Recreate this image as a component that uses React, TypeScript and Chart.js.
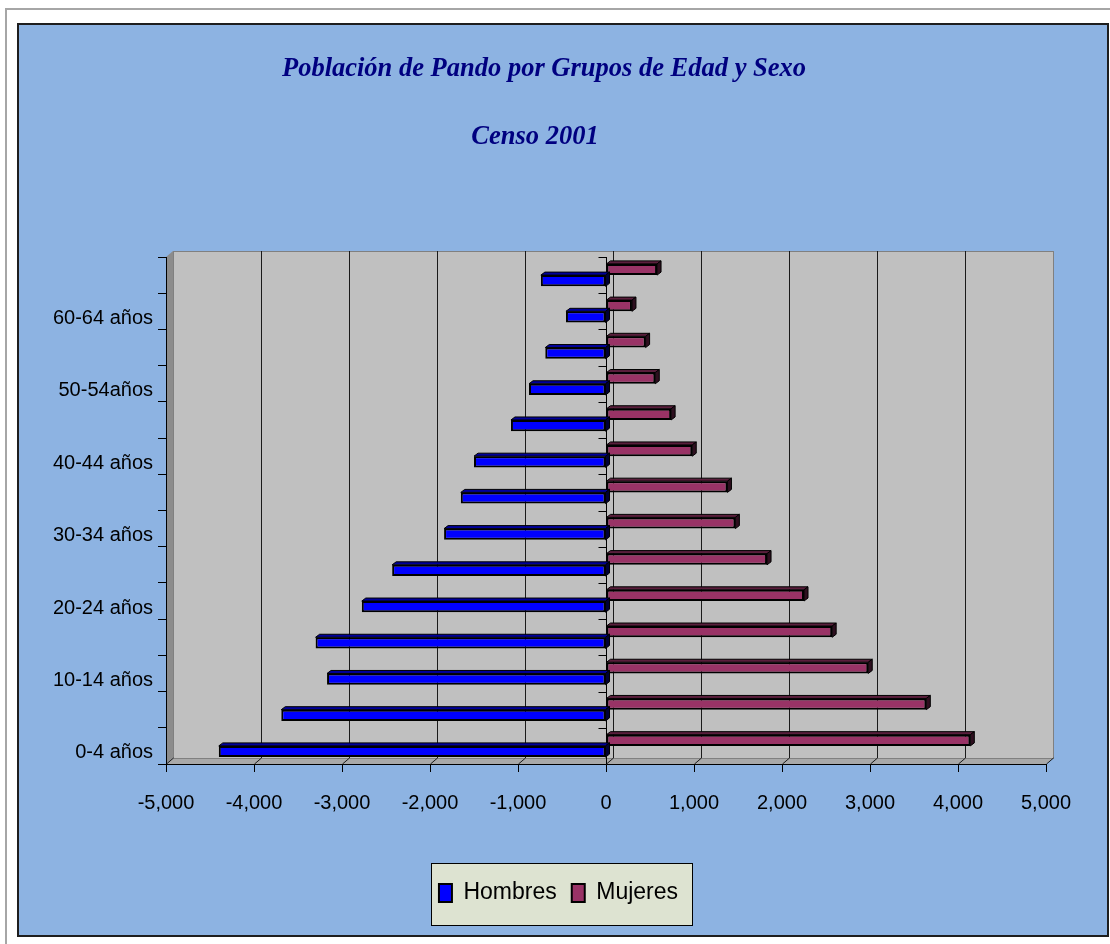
import { useEffect, useRef } from "react";
import { Chart, registerables } from "chart.js";

Chart.register(...registerables);

// ---- data (bottom to top: youngest to oldest) ----
const ageGroups = [
  "0-4 años", "5-9 años", "10-14 años", "15-19 años", "20-24 años",
  "25-29 años", "30-34 años", "35-39 años", "40-44 años", "45-49 años",
  "50-54años", "55-59 años", "60-64 años", "65 años y más",
];
const hombres = [-4400, -3690, -3170, -3300, -2775, -2430, -1840, -1650, -1500, -1080, -875, -690, -455, -740];
const mujeres = [4140, 3640, 2980, 2570, 2250, 1830, 1470, 1380, 980, 740, 560, 450, 295, 580];
const xMin = -5000;
const xMax = 5000;
const xStep = 1000;
const titleText = "Población de Pando por Grupos de Edad y Sexo";
const subtitleText = "Censo 2001";

// ---- styles ----
const FACE: Record<string, { top: string; side: string }> = {
  Hombres: { top: "#00009A", side: "#000033" },
  Mujeres: { top: "#5A1E3C", side: "#2E0F1F" },
};
const DX = 7;
const DY = 6;
const BD = 4;
const BD2 = 3;

function poly(ctx: CanvasRenderingContext2D, pts: number[][], fill: string, stroke?: string) {
  ctx.beginPath();
  ctx.moveTo(pts[0][0], pts[0][1]);
  for (let i = 1; i < pts.length; i++) ctx.lineTo(pts[i][0], pts[i][1]);
  ctx.closePath();
  ctx.fillStyle = fill;
  ctx.fill();
  if (stroke) {
    ctx.strokeStyle = stroke;
    ctx.lineWidth = 1;
    ctx.stroke();
  }
}

function line(ctx: CanvasRenderingContext2D, x1: number, y1: number, x2: number, y2: number) {
  ctx.beginPath();
  ctx.moveTo(x1, y1);
  ctx.lineTo(x2, y2);
  ctx.stroke();
}

const wallsPlugin = {
  id: "walls3d",
  beforeDraw(chart: any) {
    const { ctx, chartArea: a, scales } = chart;
    const xs = scales.x;
    const ys = scales.y;
    ctx.save();
    // back wall
    ctx.fillStyle = "#C0C0C0";
    ctx.fillRect(a.left + DX, a.top - DY, a.right - a.left, a.bottom - a.top);
    // left wall
    poly(ctx, [[a.left, a.top], [a.left + DX, a.top - DY], [a.left + DX, a.bottom - DY], [a.left, a.bottom]], "#8C8C8C");
    // floor
    poly(ctx, [[a.left, a.bottom], [a.left + DX, a.bottom - DY], [a.right + DX, a.bottom - DY], [a.right, a.bottom]], "#A9A9A9");
    ctx.strokeStyle = "#808080";
    ctx.lineWidth = 1;
    ctx.strokeRect(Math.round(a.left + DX) + 0.5, Math.round(a.top - DY) + 0.5, a.right - a.left, a.bottom - a.top);
    // gridlines on back wall + floor
    ctx.strokeStyle = "#1A1A1A";
    xs.ticks.forEach((t: any) => {
      const px = Math.round(xs.getPixelForValue(t.value)) + 0.5;
      if (t.value !== xMin && t.value !== xMax) line(ctx, px + DX, a.top - DY, px + DX, a.bottom - DY);
      line(ctx, px, a.bottom, px + DX, a.bottom - DY);
    });
    // category axis crossing at zero
    ctx.strokeStyle = "#000";
    const x0 = Math.round(xs.getPixelForValue(0)) + 0.5;
    line(ctx, x0, a.top, x0, a.bottom);
    for (let i = 0; i <= ageGroups.length; i++) {
      const py = Math.round(ys.getPixelForValue(i - 0.5)) + 0.5;
      line(ctx, x0 - 8, py, x0, py);
    }
    ctx.restore();
  },
};

const bars3dPlugin = {
  id: "bars3d",
  afterDatasetsDraw(chart: any) {
    const ctx = chart.ctx;
    ctx.save();
    chart.data.datasets.forEach((ds: any, di: number) => {
      const meta = chart.getDatasetMeta(di);
      const f = FACE[ds.label];
      meta.data.forEach((el: any) => {
        const p = el.getProps(["x", "y", "base", "height"], true);
        const l = Math.min(p.x, p.base);
        const r = Math.max(p.x, p.base);
        const t = p.y - p.height / 2;
        const b = p.y + p.height / 2;
        poly(ctx, [[l, t], [l + BD, t - BD2], [r + BD, t - BD2], [r, t]], f.top, "#000");
        poly(ctx, [[r, t], [r + BD, t - BD2], [r + BD, b - BD2], [r, b]], f.side, "#000");
      });
    });
    ctx.restore();
  },
};

const legendBgPlugin = {
  id: "legendBg",
  beforeDraw(chart: any) {
    const lg = chart.legend;
    const hb = lg && lg.legendHitBoxes;
    if (!hb || !hb.length) return;
    const l = Math.min(...hb.map((h: any) => h.left)) - 8;
    const r = Math.max(...hb.map((h: any) => h.left + h.width)) + 14;
    const t = hb[0].top - 18.5;
    const b = hb[0].top + hb[0].height + 20.5;
    const ctx = chart.ctx;
    ctx.save();
    ctx.fillStyle = "#DDE3D1";
    ctx.fillRect(l, t, r - l, b - t);
    ctx.strokeStyle = "#000";
    ctx.lineWidth = 1;
    ctx.strokeRect(Math.round(l) + 0.5, Math.round(t) + 0.5, Math.round(r - l), Math.round(b - t));
    ctx.restore();
  },
};

const titlePlugin = {
  id: "titles",
  afterDraw(chart: any) {
    const ctx = chart.ctx;
    ctx.save();
    ctx.fillStyle = "#000080";
    ctx.font = 'italic bold 26.5px "Liberation Serif", "Times New Roman", serif';
    ctx.textAlign = "center";
    ctx.textBaseline = "middle";
    ctx.fillText(titleText, 525, 44);
    ctx.fillText(subtitleText, 516, 112);
    ctx.restore();
  },
};

export default function App() {
  const ref = useRef<HTMLCanvasElement>(null);

  useEffect(() => {
    document.body.style.margin = "0";
    document.body.style.overflow = "hidden";
    Chart.defaults.font.family = '"Liberation Sans", Arial, sans-serif';
    const labels = [...ageGroups].reverse();
    const n = labels.length;
    const chart = new Chart(ref.current as HTMLCanvasElement, {
      type: "bar",
      data: {
        labels,
        datasets: [
          {
            label: "Mujeres",
            data: [...mujeres].reverse(),
            backgroundColor: "#993366",
            borderColor: "#000",
            borderWidth: 2,
            borderSkipped: false,
            categoryPercentage: 0.62,
            barPercentage: 1,
          },
          {
            label: "Hombres",
            data: [...hombres].reverse(),
            backgroundColor: "#0000FF",
            borderColor: "#000",
            borderWidth: 2,
            borderSkipped: false,
            categoryPercentage: 0.62,
            barPercentage: 1,
          },
        ],
      },
      options: {
        indexAxis: "y",
        responsive: false,
        animation: false,
        layout: { padding: { left: 29, right: 38, top: 232, bottom: 20.5 } },
        scales: {
          x: {
            type: "linear",
            min: xMin,
            max: xMax,
            ticks: {
              stepSize: xStep,
              color: "#000",
              font: { size: 20 },
              padding: 19,
              maxRotation: 0,
              callback: (v: any) => Number(v).toLocaleString("en-US"),
            },
            grid: { drawOnChartArea: false, drawTicks: true, tickLength: 8, color: "#000" },
            border: { display: true, color: "#000", width: 1 },
            afterFit: (s: any) => {
              s.height = 102.5;
            },
          },
          y: {
            type: "category",
            offset: true,
            ticks: {
              autoSkip: false,
              color: "#000",
              font: { size: 20 },
              padding: 5,
              labelOffset: 7,
              callback: function (this: any, v: any, i: number) {
                return (n - 1 - i) % 2 === 0 ? this.getLabelForValue(v) : "";
              },
            },
            grid: { offset: true, drawOnChartArea: false, drawTicks: true, tickLength: 8, color: "#000" },
            border: { display: true, color: "#000", width: 1 },
            afterFit: (s: any) => {
              s.width = 118;
            },
          },
          yRight: {
            type: "category",
            axis: "y",
            position: "right",
            display: true,
            grid: { display: false },
            ticks: { display: false },
            border: { display: false },
            afterFit: (s: any) => {
              s.width = 23;
            },
          },
        },
        plugins: {
          legend: {
            position: "bottom",
            reverse: true,
            labels: { boxWidth: 13, boxHeight: 18, padding: 15, color: "#000", font: { size: 23 } },
          },
          title: { display: false },
          tooltip: { enabled: false },
        },
      } as any,
      plugins: [wallsPlugin, legendBgPlugin, bars3dPlugin, titlePlugin],
    });
    return () => chart.destroy();
  }, []);

  return (
    <>
      <div
        style={{
          position: "absolute",
          left: 5,
          top: 8,
          width: 1105,
          height: 936,
          borderTop: "2px solid #A6A6A6",
          borderLeft: "2px solid #A6A6A6",
          boxSizing: "border-box",
          background: "#fff",
        }}
      />
      <div
        style={{
          position: "absolute",
          left: 17,
          top: 23,
          width: 1092,
          height: 914,
          border: "2px solid #1E1E1E",
          boxSizing: "border-box",
          background: "#8DB3E2",
        }}
      >
        <canvas ref={ref} width={1088} height={910} style={{ display: "block" }} />
      </div>
    </>
  );
}
